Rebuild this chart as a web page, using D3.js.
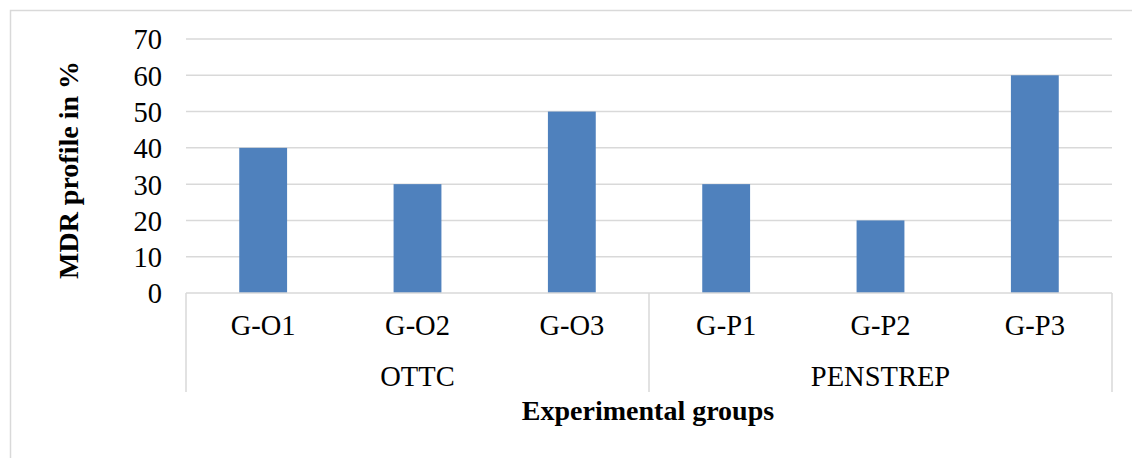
<!DOCTYPE html>
<html><head><meta charset="utf-8">
<script src="https://cdn.jsdelivr.net/npm/d3@7"></script>
<style>
html,body{margin:0;padding:0;background:#fff;}
svg{display:block;font-family:"Liberation Serif","Times New Roman",serif;}
</style></head>
<body>
<script>
const categories = ["G-O1","G-O2","G-O3","G-P1","G-P2","G-P3"];
const groups = ["OTTC","OTTC","OTTC","PENSTREP","PENSTREP","PENSTREP"];
const values = [40,30,50,30,20,60];
const yTicks = [0,10,20,30,40,50,60,70];
const yTitle = "MDR profile in %";
const xTitle = "Experimental groups";

(function () {
const W = 1132, H = 458;
const FS = 28.5, TFS = 28;
const svg = d3.select("body").append("svg").attr("width", W).attr("height", H);

// outer chart border
svg.append("rect").attr("x", 10.5).attr("y", 10.5).attr("width", W).attr("height", H)
  .attr("fill", "none").attr("stroke", "#d9d9d9").attr("stroke-width", 1.5);

const pL = 186, pR = 1112, pT = 39, pB = 293;
const x = d3.scaleBand().domain(categories).range([pL, pR]).paddingInner(0.69).paddingOuter(0.345);
const xc = d3.scaleBand().domain(categories).range([pL, pR]);
const y = d3.scaleLinear().domain([0, 70]).range([pB, pT]);

// gridlines
svg.append("g").selectAll("line").data(yTicks.filter(d => d > 0)).join("line")
  .attr("x1", pL).attr("x2", pR)
  .attr("y1", d => y(d)).attr("y2", d => y(d))
  .attr("stroke", "#d9d9d9").attr("stroke-width", 1.5);

// y tick labels
const yAxis = d3.axisLeft(y).tickValues(yTicks).tickSize(0).tickPadding(0);
const ya = svg.append("g").attr("transform", `translate(${pL - 24},0)`).call(yAxis);
ya.select(".domain").remove();
ya.selectAll("text").attr("font-size", FS).attr("font-family", "Liberation Serif").attr("fill", "#000").attr("dy", "0.35em");

// bars
svg.append("g").selectAll("rect").data(values).join("rect")
  .attr("x", (d, i) => x(categories[i]))
  .attr("y", d => y(d))
  .attr("width", x.bandwidth())
  .attr("height", d => y(0) - y(d))
  .attr("fill", "#4f81bd");

// x axis baseline
svg.append("line").attr("x1", pL).attr("x2", pR).attr("y1", pB).attr("y2", pB)
  .attr("stroke", "#d9d9d9").attr("stroke-width", 1.5);

// category labels
svg.append("g").selectAll("text").data(categories).join("text")
  .attr("x", d => xc(d) + xc.bandwidth() / 2)
  .attr("y", 335)
  .attr("text-anchor", "middle").attr("font-size", FS).attr("fill", "#000")
  .text(d => d);

// group labels and separators
const groupNames = Array.from(new Set(groups));
const groupSpans = groupNames.map(g => {
  const idx = groups.map((v, i) => v === g ? i : -1).filter(i => i >= 0);
  return { name: g, x0: xc(categories[idx[0]]), x1: xc(categories[idx[idx.length - 1]]) + xc.bandwidth() };
});
const seps = [pL].concat(groupSpans.map(s => s.x1));
svg.append("g").selectAll("line").data(seps).join("line")
  .attr("x1", d => d).attr("x2", d => d).attr("y1", pB).attr("y2", 392)
  .attr("stroke", "#d9d9d9").attr("stroke-width", 1.5);
svg.append("g").selectAll("text").data(groupSpans).join("text")
  .attr("x", d => (d.x0 + d.x1) / 2).attr("y", 386)
  .attr("text-anchor", "middle").attr("font-size", FS).attr("fill", "#000")
  .text(d => d.name);

// axis titles
svg.append("text").attr("x", 648).attr("y", 420).attr("text-anchor", "middle")
  .attr("font-size", TFS).attr("font-weight", "bold").attr("fill", "#000").text(xTitle);
svg.append("text").attr("transform", "translate(78,170) rotate(-90)").attr("text-anchor", "middle")
  .attr("font-size", TFS).attr("font-weight", "bold").attr("fill", "#000").text(yTitle);
})();
</script>
</body></html>
